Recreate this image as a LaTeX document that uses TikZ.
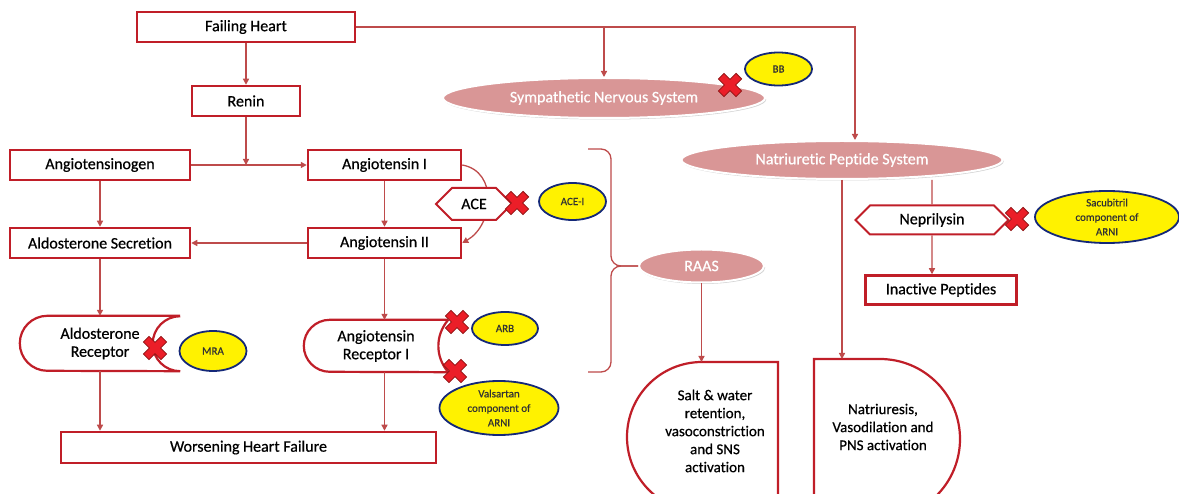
\documentclass[tikz,border=0pt]{standalone}
\usepackage{fontspec}
\setmainfont{Carlito}[Ligatures=NoCommon, FakeBold=0.6]
\usetikzlibrary{arrows.meta,shapes.geometric,shapes.symbols,shadows}
\definecolor{boxred}{RGB}{192,30,40}
\definecolor{linkred}{RGB}{190,75,75}
\definecolor{syspink}{RGB}{217,150,150}
\definecolor{drugblue}{RGB}{20,40,120}
\definecolor{crossred}{RGB}{235,30,40}
\definecolor{crossedge}{RGB}{140,20,20}
\tikzset{
    box/.style={draw=boxred, line width=2.5pt, fill=white, inner sep=2pt,
        minimum height=30pt, font=\fontsize{16}{19}\selectfont},
    outline/.style={draw=boxred, line width=2.2pt, fill=white},
    label box/.style={inner sep=0pt, align=center, font=\fontsize{16}{18}\selectfont},
    outcome/.style={inner sep=0pt, align=center, font=\fontsize{15}{18}\selectfont},
    enzyme/.style={signal, signal to=west and east, signal pointer angle=90,
        draw=boxred, line width=2pt, fill=white, inner sep=1pt,
        font=\fontsize{16}{19}\selectfont},
    system/.style={ellipse, fill=syspink, draw=white, line width=2pt, text=white,
        inner sep=0pt, font=\fontsize{16}{19}\selectfont,
        drop shadow={shadow xshift=1.2pt, shadow yshift=-1.5pt, fill=black!35}},
    drug/.style={ellipse, fill=yellow, draw=drugblue, line width=1.8pt, inner sep=0pt,
        align=center, text=black!80, font=\fontsize{11}{14.5}\selectfont},
    link/.style={draw=linkred, line width=1.3pt},
    arrow/.style={link, -{Triangle[length=6pt, width=6pt]}},
    xmark/.pic={
        \filldraw [fill=crossred, draw=crossedge, line width=0.8pt, rotate=45]
            (4,4) -- (4,12.5) -- (-4,12.5) -- (-4,4) -- (-12.5,4) -- (-12.5,-4)
            -- (-4,-4) -- (-4,-12.5) -- (4,-12.5) -- (4,-4) -- (12.5,-4)
            -- (12.5,4) -- cycle;
    }
}

\begin{document}
\begin{tikzpicture}[x=1pt, y=1pt]
        \useasboundingbox (0,0) rectangle (1179,-494);
        \clip (0,0) rectangle (1179,-494);
        \fill [white] (0,0) rectangle (1179,-494);

        \node [box, minimum width=218pt] (fh) at (246,-27) {Failing Heart};
        \node [box, minimum width=108pt] (renin) at (246,-101) {Renin};
        \node [box, minimum width=180pt] (agen) at (100,-165) {Angiotensinogen};
        \node [box, minimum width=153pt] (at1) at (384.5,-165) {Angiotensin I};
        \node [box, minimum width=180pt] (aldsec) at (100,-243) {Aldosterone Secretion};
        \node [box, minimum width=153pt] (at2) at (384.5,-243) {Angiotensin II};

        \node [label box, minimum width=160pt, minimum height=55pt] (aldrec)
            at (100,-343.5) {Aldosterone\\Receptor};
        \draw [outline, fill=none] (aldrec.north east)
            -- ([xshift=27.5pt]aldrec.north west) arc [start angle=90, end angle=270, radius=27.5pt]
            -- (aldrec.south east) arc [start angle=270, end angle=90, radius=27.5pt];
        \node [label box, minimum width=144pt, minimum height=52pt] (ari)
            at (376,-346) {Angiotensin\\Receptor I};
        \draw [outline, fill=none] (ari.north east)
            -- ([xshift=26pt]ari.north west) arc [start angle=90, end angle=270, radius=26pt]
            -- (ari.south east) to [bend left=40] (ari.north east);
        \node [box, minimum width=375pt, minimum height=31pt] (whf)
            at (248.5,-447.5) {Worsening Heart Failure};

        \node [system, minimum width=322pt, minimum height=40pt] (sns)
            at (604,-98) {Sympathetic Nervous System};
        \node [system, minimum width=321pt, minimum height=38pt] (nps)
            at (842,-160) {Natriuretic Peptide System};
        \node [system, minimum width=125pt, minimum height=33pt] (raas)
            at (701.5,-266) {RAAS};

        \draw [outline] (778,-520) -- (778,-362) -- (702,-362)
            arc [start angle=90, end angle=270, radius=75pt] -- (778,-512);
        \draw [outline] (814,-530) -- (814,-359) -- (880,-359)
            arc [start angle=90, end angle=-90, radius=80pt] -- (814,-519);
        \node [outcome] (salt) at (715,-431)
            {Salt \& water\\retention,\\vasoconstriction\\and SNS\\activation};
        \node [outcome] (natr) at (883,-427) {Natriuresis,\\Vasodilation and\\PNS activation};
        \node [box, minimum width=151pt, minimum height=29pt] (inact)
            at (941,-290) {Inactive Peptides};

        \node [drug, minimum width=67pt, minimum height=33pt] (bb) at (778.5,-69) {BB};
        \node [drug, minimum width=67pt, minimum height=37pt] (acei) at (572.5,-201.5) {ACE-I};
        \node [drug, minimum width=67pt, minimum height=40pt] (mra) at (213,-351) {MRA};
        \node [drug, minimum width=66pt, minimum height=33pt] (arb) at (505,-328.5) {ARB};
        \node [drug, minimum width=119pt, minimum height=54pt] (vals)
            at (499,-408) {Valsartan\\component of\\ARNI};
        \node [drug, minimum width=144pt, minimum height=52pt] (sacu)
            at (1107,-217) {Sacubitril\\component of\\ARNI};

        \coordinate (nptop) at ([xshift=13pt]nps.north);
        \coordinate (salttop) at (778,-362);
        \coordinate (natrtop) at (814,-359);
        \coordinate (bracetop) at (588,-149);
        \coordinate (bracebot) at (588,-372);
        \coordinate (bracemid) at ([xshift=-27pt]raas.west);

        \draw [arrow] (fh) -- (renin);
        \draw [arrow] (renin) -- (renin |- agen);
        \draw [arrow] (agen) -- (at1);
        \draw [arrow] (agen) -- (aldsec);
        \draw [arrow] (at1) -- (at2);
        \draw [arrow] (at2) -- (aldsec);
        \draw [arrow] (at1.east) to [out=-10, in=30, looseness=1.2] (at2.east);
        \draw [arrow] (aldsec) -- (aldsec |- aldrec.north);
        \draw [arrow] (at2) -- (at2 |- ari.north);
        \draw [arrow] (aldrec) -- (aldrec |- whf.north);
        \draw [arrow] (at2 |- ari.south) -- (at2 |- whf.north);
        \draw [arrow] (fh.east) -| (nptop);
        \draw [arrow] (fh.east -| sns.north) -- (sns);
        \draw [arrow] (nps.south) -- (nps.south |- natrtop);
        \draw [arrow] (raas) -- (raas |- salttop);
        \draw [link, rounded corners=10pt] (bracetop) -| (bracemid) -- (raas.west);
        \draw [link, rounded corners=10pt] (bracebot) -| (bracemid) -- (raas.west);

        \node [enzyme, minimum width=76pt, minimum height=32pt] (ace) at (474,-204) {ACE};
        \node [enzyme, minimum width=153pt, minimum height=29pt] (nep) at (932,-220) {Neprilysin};
        \draw [link] (nep.north |- nps.south) -- (nep);
        \draw [arrow] (nep) -- (nep |- inact.north);

        \pic at (517,-203) {xmark};
        \pic at (730,-85) {xmark};
        \pic at (1017,-219) {xmark};
        \pic at (155,-348) {xmark};
        \pic at (457,-322) {xmark};
        \pic at (455,-371) {xmark};
\end{tikzpicture}
\end{document}
